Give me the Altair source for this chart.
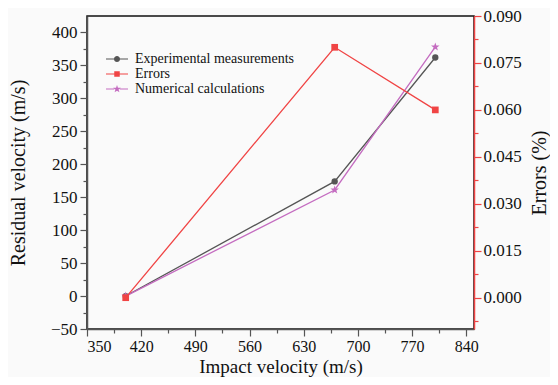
import altair as alt
import pandas as pd

# ---- data ----
impact = [400, 670, 800]
experimental = [0, 174, 362]
numerical = [0, 161, 378]
errors = [0.0, 0.080, 0.060]

series_names = ["Experimental measurements", "Errors", "Numerical calculations"]
series_colors = ["#555555", "#f04444", "#c46cc0"]

x_ticks = [350, 385, 420, 455, 490, 525, 560, 595, 630, 665, 700, 735, 770, 805, 840]
left_ticks = [-50, -25, 0, 25, 50, 75, 100, 125, 150, 175, 200, 225, 250, 275, 300, 325, 350, 375, 400]
right_ticks = [-0.0075, 0.0, 0.0075, 0.015, 0.0225, 0.03, 0.0375, 0.045, 0.0525, 0.06,
               0.0675, 0.075, 0.0825, 0.09]

FONT = "Liberation Serif, Times New Roman, serif"

rows = []
for xv, v in zip(impact, experimental):
    rows.append({"x": xv, "value": v, "series": series_names[0]})
for xv, v in zip(impact, errors):
    rows.append({"x": xv, "value": v, "series": series_names[1]})
for xv, v in zip(impact, numerical):
    rows.append({"x": xv, "value": v, "series": series_names[2]})
df = pd.DataFrame(rows)

base = alt.Chart(df)

# symbol paths (legend: short line + marker)
circle = "M0.55,0A0.55,0.55 0 1 1 -0.55,0A0.55,0.55 0 1 1 0.55,0Z"
square = "M-0.5,-0.5H0.5V0.5H-0.5Z"
star_unit = ("M0,-1L0.235,-0.324L0.951,-0.309L0.380,0.124L0.588,0.809L0,0.4L-0.588,0.809"
             "L-0.380,0.124L-0.951,-0.309L-0.235,-0.324Z")
star_small = ("M0,-0.75L0.176,-0.243L0.713,-0.232L0.285,0.093L0.441,0.607L0,0.3L-0.441,0.607"
              "L-0.285,0.093L-0.713,-0.232L-0.176,-0.243Z")
seg = "M-2,-0.09H-0.5V0.09H-2ZM0.5,-0.09H2V0.09H0.5Z"
legend_shapes = [seg + circle, seg + square, seg + star_small]

x_enc = alt.X(
    "x:Q",
    scale=alt.Scale(domain=[350, 850], nice=False, zero=False),
    axis=alt.Axis(
        values=x_ticks,
        title="Impact velocity (m/s)",
        labelExpr="datum.value % 70 == 0 ? datum.label : ''",
        tickSize={"condition": {"test": "datum.value % 70 != 0", "value": 4}, "value": 7},
        domainColor="#555555",
        tickColor="#555555",
        labelFontSize=16,
        labelPadding=2,
        titleFontSize=19,
        titlePadding=3,
    ),
)

y_left = alt.Y(
    "value:Q",
    scale=alt.Scale(domain=[-50, 425], nice=False, zero=False),
    axis=alt.Axis(
        orient="left",
        values=left_ticks,
        title="Residual velocity (m/s)",
        labelExpr="datum.value % 50 == 0 ? datum.label : ''",
        tickSize={"condition": {"test": "datum.value % 50 != 0", "value": 4}, "value": 7},
        domainColor="#555555",
        tickColor="#555555",
        labelPadding=3,
        titlePadding=22,
    ),
)

y_right = alt.Y(
    "value:Q",
    scale=alt.Scale(domain=[-0.01, 0.09], nice=False, zero=False),
    axis=alt.Axis(
        orient="right",
        values=right_ticks,
        title="Errors (%)",
        titleAngle=-90,
        titleBaseline="top",
        labelExpr="abs(round(datum.value*1000) % 15) == 0 ? format(datum.value, '.3f') : ''",
        tickSize={"condition": {"test": "abs(round(datum.value*1000) % 15) != 0", "value": 4}, "value": 7},
        domainColor="#f04444",
        tickColor="#f04444",
        labelPadding=2,
        titlePadding=8,
    ),
)

def series_layers(name, color, shape, size, y):
    sub = base.transform_filter(alt.datum.series == name)
    line = sub.mark_line(color=color, strokeWidth=1.3).encode(x=x_enc, y=y)
    pts = sub.mark_point(color=color, filled=True, opacity=1, shape=shape, size=size).encode(x=x_enc, y=y)
    return line, pts

exp_line, exp_pts = series_layers(series_names[0], series_colors[0], "circle", 40, y_left)
num_line, num_pts = series_layers(series_names[2], series_colors[2], star_unit, 80, y_left)
err_line, err_pts = series_layers(series_names[1], series_colors[1], "square", 45, y_right)

legend_cfg = alt.Legend(
    title=None,
    orient="none",
    legendX=23,
    legendY=36,
    symbolSize=121,
    labelOffset=11,
    rowPadding=1,
    padding=0,
    labelFont=FONT,
    labelFontSize=14,
    labelColor="#111111",
)

legend_layer = base.transform_filter("false").mark_point(filled=True, opacity=1).encode(
    x=x_enc,
    y=y_left,
    color=alt.Color("series:N", scale=alt.Scale(domain=series_names, range=series_colors), legend=legend_cfg),
    shape=alt.Shape("series:N", scale=alt.Scale(domain=series_names, range=legend_shapes), legend=legend_cfg),
)

left = alt.layer(exp_line, num_line, exp_pts, num_pts, legend_layer)
right = alt.layer(err_line, err_pts)

chart = alt.layer(left, right).resolve_scale(y="independent").properties(
    width=387,
    height=313,
    autosize=alt.AutoSizeParams(type="none"),
    padding={"left": 79, "top": 8, "right": 76, "bottom": 48},
    background="#fafafa",
).configure_view(
    stroke="#111111", strokeWidth=1.5, fill="#fafafa"
).configure_axis(
    grid=False,
    domainWidth=1.5,
    tickWidth=1.2,
    labelFont=FONT,
    labelFontSize=17,
    labelColor="#111111",
    titleFont=FONT,
    titleFontSize=20,
    titleFontWeight="normal",
    titleColor="#111111",
).configure_legend(
    labelFont=FONT,
    labelFontSize=14,
    labelColor="#111111",
)

chart.save("out.html", embed_options={"renderer": "svg", "actions": False})
